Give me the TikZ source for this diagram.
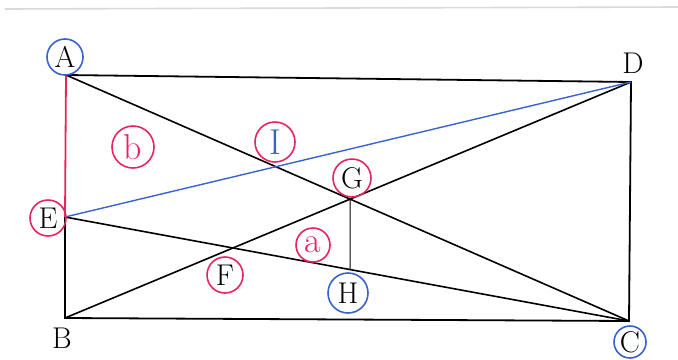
\documentclass[tikz,border=0pt]{standalone}
\usepackage{tikz}

\definecolor{penred}{RGB}{232,36,96}
\definecolor{penblue}{RGB}{56,98,206}

\begin{document}
\begin{tikzpicture}[x=0.5pt,y=-0.5pt,
    every node/.style={font=\fontsize{15}{17}\selectfont},
    ring/.style={circle,draw=#1,line width=0.8pt,inner sep=0pt,minimum size=18pt},
    hand/.style={font=\fontsize{18}{20}\selectfont}]
        \useasboundingbox (0,0) rectangle (678,359);
        \draw[black!15,line width=0.8pt] (5,9) -- (678,7);

        \coordinate (A) at (66,75);
        \coordinate (B) at (65,318);
        \coordinate (C) at (629,321);
        \coordinate (D) at (631,82);
        \coordinate (E) at (65,217);
        \coordinate (G) at (intersection of A--C and B--D);
        \coordinate (F) at (intersection of E--C and B--D);
        \path (G) ++(0,100) coordinate (Gdown);
        \coordinate (H) at (intersection of E--C and G--Gdown);

        \draw[line width=0.9pt] (A) -- (D) -- (C) -- (B) -- (E);
        \draw[penred,line width=0.9pt] (E) -- (A);
        \draw[line width=0.8pt] (A) -- (C);
        \draw[line width=0.8pt] (B) -- (D);
        \draw[line width=0.8pt] (E) -- (C);
        \draw[penblue,line width=0.7pt] (E) -- (D);
        \draw[line width=0.5pt] (G) -- (H);

        \node[ring=penblue] (lA) at (65,57) {A};
        \node (lB) at (62,338) {B};
        \node[ring=penblue,minimum size=16pt] (lC) at (630,342) {C};
        \node (lD) at (633,63) {D};
        \node[ring=penred] (lE) at (48,218) {E};
        \node[ring=penred] (lF) at (225,275) {F};
        \node[ring=penred,minimum size=19pt] (lG) at (352,178) {G};
        \node[ring=penblue,minimum size=20pt] (lH) at (348,293) {H};
        \node[ring=penred,minimum size=20pt,text=penblue,hand] (lI) at (275,142) {I};
        \node[ring=penred,minimum size=17pt,text=penred,hand] (la) at (313,245) {a};
        \node[ring=penred,minimum size=21pt,text=penred,hand] (lb) at (133,147) {b};
    \end{tikzpicture}
\end{document}
